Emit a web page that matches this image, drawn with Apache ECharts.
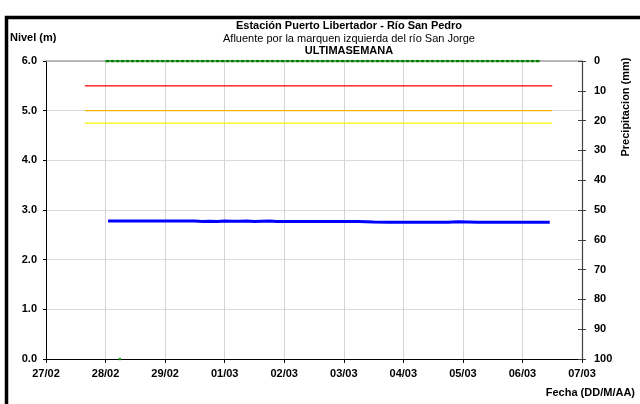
<!DOCTYPE html>
<html>
<head>
<meta charset="utf-8">
<script src="https://cdn.jsdelivr.net/npm/echarts@6/dist/echarts.min.js"></script>
<style>
  html, body { margin: 0; padding: 0; background: #fff; }
  #chart { width: 640px; height: 404px; }
</style>
</head>
<body>
<div id="chart"></div>
<script>
// nivel (m)
const levelTimes = [
  "2024-02-28 01:00", "2024-02-28 06:00", "2024-02-28 12:00", "2024-02-28 18:00",
  "2024-02-29 00:00", "2024-02-29 06:00", "2024-02-29 12:00", "2024-02-29 15:00",
  "2024-02-29 18:00", "2024-02-29 21:00", "2024-03-01 00:00", "2024-03-01 03:00",
  "2024-03-01 06:00", "2024-03-01 09:00", "2024-03-01 12:00", "2024-03-01 15:00",
  "2024-03-01 18:00", "2024-03-01 21:00", "2024-03-02 06:00", "2024-03-02 18:00",
  "2024-03-03 06:00", "2024-03-03 12:00", "2024-03-03 18:00", "2024-03-04 06:00",
  "2024-03-04 18:00", "2024-03-04 22:00", "2024-03-05 02:00", "2024-03-05 06:00",
  "2024-03-05 18:00", "2024-03-06 06:00", "2024-03-06 11:00"
];
const levelValues = [
  2.78, 2.78, 2.78, 2.78,
  2.78, 2.78, 2.78, 2.77,
  2.775, 2.77, 2.78, 2.775,
  2.775, 2.78, 2.77, 2.775,
  2.78, 2.77, 2.77, 2.77,
  2.77, 2.76, 2.755, 2.755,
  2.755, 2.765, 2.76, 2.755,
  2.755, 2.755, 2.755
];
// precipitacion (mm)
const rainTimes = [
  "2024-02-28 00:00", "2024-02-29 00:00", "2024-03-01 00:00", "2024-03-02 00:00",
  "2024-03-03 00:00", "2024-03-04 00:00", "2024-03-05 00:00", "2024-03-06 00:00",
  "2024-03-06 07:00"
];
const rainValues = [0, 0, 0, 0, 0, 0, 0, 0, 0];
// umbrales
const thresholdStart = "2024-02-27 15:40";
const thresholdEnd = "2024-03-06 12:00";
const thresholdNames = ["Rojo", "Naranja", "Amarillo"];
const thresholdValues = [5.5, 5.0, 4.75];
const thresholdColors = ["#ff0000", "#ffb400", "#f5f500"];
// punto suelto
const extraPoint = ["2024-02-28 05:45", 0];

const xMin = "2024-02-27 00:00";
const xMax = "2024-03-07 00:00";
const DAY = 86400000;

function ts(s) {
  const [d, t] = s.split(" ");
  const [y, m, dd] = d.split("-").map(Number);
  const [hh, mm] = t.split(":").map(Number);
  return Date.UTC(y, m - 1, dd, hh, mm);
}
function pad(n) { return (n < 10 ? "0" : "") + n; }

const FONT = "Liberation Sans";
const chart = echarts.init(document.getElementById("chart"));

const thresholdSeries = thresholdValues.map((v, i) => ({
  name: thresholdNames[i],
  type: "line",
  yAxisIndex: 0,
  xAxisIndex: 0,
  showSymbol: false,
  symbol: "none",
  silent: true,
  lineStyle: { color: thresholdColors[i], width: 1.2 },
  data: [[ts(thresholdStart), v], [ts(thresholdEnd), v]],
  z: 3
}));

const titleFont = (w) => ({ fontFamily: FONT, fontSize: 11, fontWeight: w, color: "#000" });

const option = {
  animation: false,
  backgroundColor: "#fff",
  textStyle: { fontFamily: FONT },
  title: [
    { text: "Estación Puerto Libertador - Río San Pedro", left: 349, top: 20, padding: 0,
      textAlign: "center", textStyle: titleFont("bold") },
    { text: "Afluente por la marquen izquierda del río San Jorge", left: 349, top: 33, padding: 0,
      textAlign: "center", textStyle: titleFont("normal") },
    { text: "ULTIMASEMANA", left: 349, top: 45, padding: 0,
      textAlign: "center", textStyle: titleFont("bold") }
  ],
  graphic: [
    {
      type: "rect", silent: true,
      shape: { x: 6.5, y: 17.5, width: 700, height: 500 },
      style: { fill: "none", stroke: "#000", lineWidth: 3.5 }
    },
    {
      type: "text", left: 10, top: 32,
      style: { text: "Nivel (m)", font: "bold 11px '" + FONT + "'", fill: "#000" }
    },
    {
      type: "text", right: 5, top: 387,
      style: { text: "Fecha (DD/M/AA)", font: "bold 11px '" + FONT + "'", fill: "#000" }
    },
    {
      type: "text", x: 626, y: 107, rotation: Math.PI / 2,
      style: {
        text: "Precipitacion (mm)", font: "bold 11px '" + FONT + "'", fill: "#000",
        align: "center", verticalAlign: "middle"
      }
    }
  ],
  grid: { left: 46, right: 58, top: 61, bottom: 45 },
  xAxis: [
    {
      type: "value",
      min: ts(xMin), max: ts(xMax), interval: DAY,
      axisLine: { show: true, lineStyle: { color: "#000", width: 1 } },
      axisTick: { show: true, length: 4, lineStyle: { color: "#000" } },
      axisLabel: {
        margin: 9, color: "#000", fontFamily: FONT, fontSize: 11, fontWeight: "bold",
        formatter: v => { const d = new Date(v); return pad(d.getUTCDate()) + "/" + pad(d.getUTCMonth() + 1); }
      },
      splitLine: { show: true, lineStyle: { color: "#d4d4d4", width: 1 } }
    },
    {
      type: "value", position: "top",
      min: ts(xMin), max: ts(xMax), interval: DAY,
      axisLine: { show: true, lineStyle: { color: "#a6a6a6", width: 1.5 } },
      axisTick: { show: false }, axisLabel: { show: false }, splitLine: { show: false }
    }
  ],
  yAxis: [
    {
      type: "value", min: 0, max: 6, interval: 1, position: "left",
      axisLine: { show: true, lineStyle: { color: "#000", width: 1 } },
      axisTick: { show: true, length: 3, lineStyle: { color: "#000" } },
      axisLabel: {
        margin: 9, color: "#000", fontFamily: FONT, fontSize: 11, fontWeight: "bold",
        formatter: v => v.toFixed(1)
      },
      splitLine: { show: true, lineStyle: { color: "#dadada", width: 1 } }
    },
    {
      type: "value", min: 0, max: 100, interval: 10, position: "right", inverse: true, offset: 0,
      axisLine: { show: true, lineStyle: { color: "#404040", width: 1.2 } },
      axisTick: { show: true, length: 4, lineStyle: { color: "#404040" } },
      axisLabel: { margin: 12, color: "#000", fontFamily: FONT, fontSize: 11, fontWeight: "bold" },
      splitLine: { show: false }
    },
    {
      // ticks hacia adentro del eje derecho
      type: "value", min: 0, max: 100, interval: 10, position: "right", inverse: true, offset: 0,
      axisLine: { show: false },
      axisTick: { show: true, inside: true, length: 4, lineStyle: { color: "#404040" } },
      axisLabel: { show: false },
      splitLine: { show: false }
    }
  ],
  series: [
    ...thresholdSeries,
    {
      name: "Precipitacion",
      type: "line", yAxisIndex: 1,
      showSymbol: false, symbol: "none", silent: true,
      lineStyle: { color: "#008000", width: 2.5, type: [4, 1] },
      data: rainTimes.map((t, i) => [ts(t), rainValues[i]]),
      z: 4
    },
    {
      name: "Nivel",
      type: "line", yAxisIndex: 0,
      showSymbol: false, symbol: "none", silent: true,
      lineStyle: { color: "#0000ff", width: 3 },
      data: levelTimes.map((t, i) => [ts(t), levelValues[i]]),
      z: 5
    },
    {
      name: "Punto",
      type: "scatter", yAxisIndex: 0,
      symbol: "rect", symbolSize: 2.5, silent: true,
      itemStyle: { color: "#00a000" },
      data: [[ts(extraPoint[0]), extraPoint[1]]],
      z: 6
    }
  ]
};

chart.setOption(option);
</script>
</body>
</html>
